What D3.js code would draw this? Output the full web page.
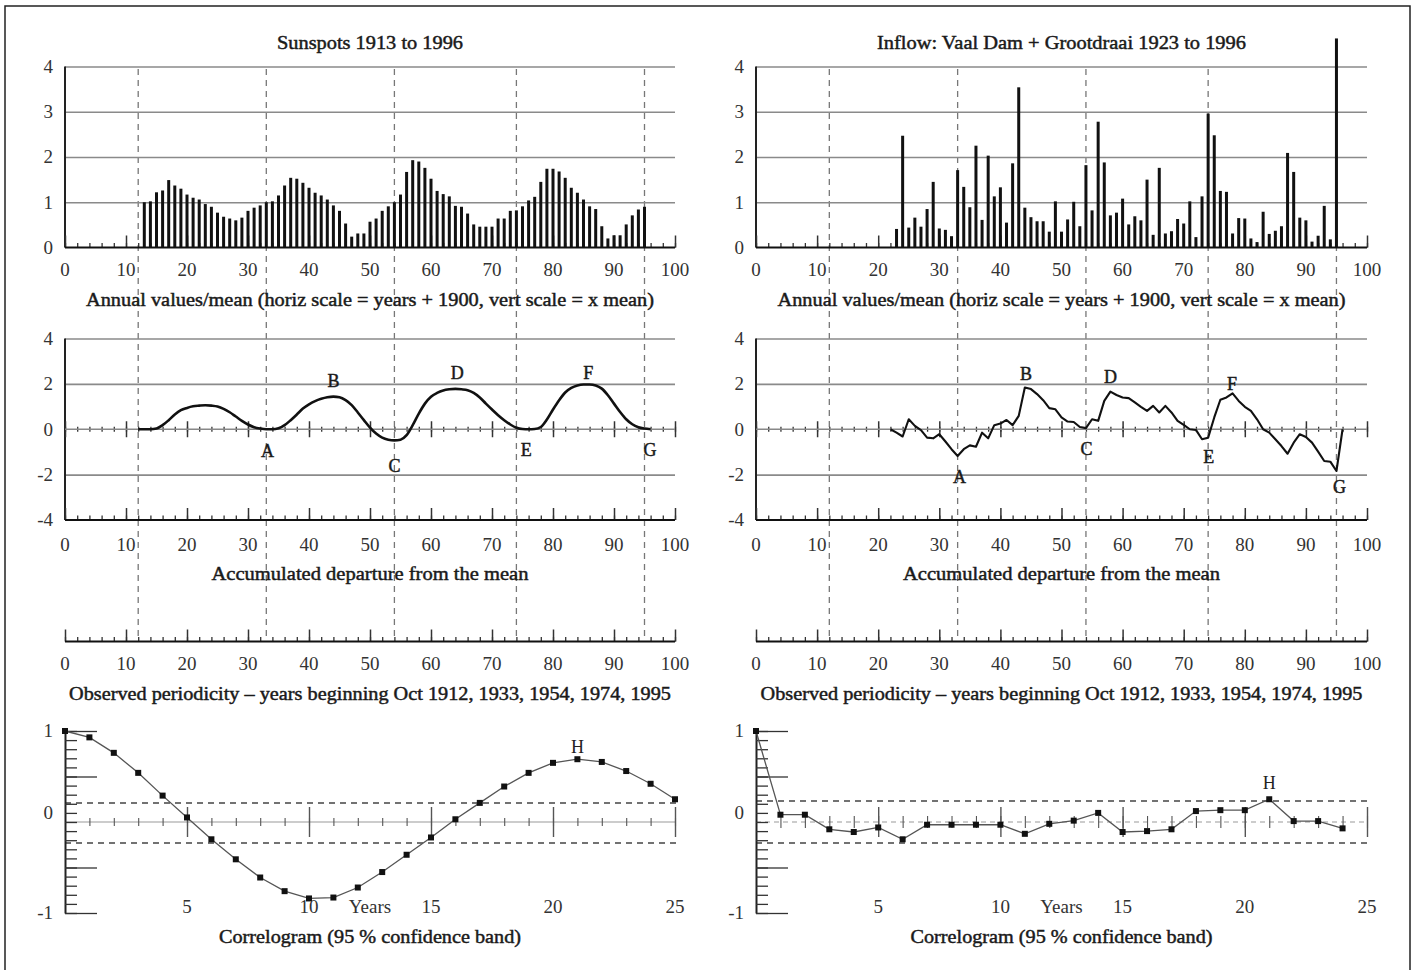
<!DOCTYPE html>
<html>
<head>
<meta charset="utf-8">
<script src="https://cdn.jsdelivr.net/npm/d3@7"></script>
<style>
  body { margin: 0; background: #fff; }
  text { font-family: "Liberation Serif", "DejaVu Serif", serif; }
  .semi { fill: #1a1a1a; stroke: #1a1a1a; stroke-width: 0.45px; }
</style>
</head>
<body>
<script>
// ---- data ----
var periodYears = [12, 33, 54, 74, 95];

var sunspotYears = d3.range(13, 96);
var sunspotValues = [1.0,1.02,1.22,1.26,1.49,1.37,1.30,1.17,1.10,1.06,0.96,0.90,0.77,0.68,0.64,0.60,0.66,0.81,0.88,0.93,
  1.0,1.02,1.15,1.37,1.54,1.52,1.43,1.32,1.21,1.15,1.06,0.93,0.81,0.53,0.24,0.31,0.31,0.57,0.64,0.81,
  0.91,1.0,1.17,1.67,1.93,1.90,1.76,1.52,1.25,1.18,1.13,0.92,0.90,0.75,0.51,0.46,0.46,0.46,0.64,0.64,
  0.81,0.82,0.91,1.04,1.12,1.45,1.74,1.74,1.68,1.54,1.32,1.21,1.06,0.91,0.85,0.47,0.20,0.27,0.27,0.51,
  0.71,0.84,0.90];

var inflowYears = d3.range(23, 96);
var inflowValues = [0.41,2.47,0.44,0.66,0.46,0.85,1.45,0.42,0.39,0.25,1.71,1.34,0.89,2.25,0.61,2.03,1.13,1.33,0.55,1.86,
  3.54,0.88,0.67,0.58,0.58,0.35,1.02,0.35,0.62,1.01,0.47,1.82,0.82,2.78,1.88,0.71,0.77,1.08,0.51,0.69,
  0.60,1.50,0.28,1.76,0.31,0.36,0.63,0.53,1.02,0.23,1.13,2.96,2.48,1.25,1.23,0.31,0.65,0.64,0.20,0.12,
  0.79,0.30,0.37,0.47,2.09,1.67,0.66,0.60,0.13,0.26,0.92,0.18,4.62];

var sunDepYears = d3.range(12, 97);
var sunDepValues = [0,0,0,0.03,0.18,0.40,0.65,0.84,0.94,1.01,1.04,1.06,1.04,1.00,0.90,0.75,0.56,0.37,0.21,0.09,
  0.03,0,0,0.04,0.18,0.40,0.65,0.91,1.10,1.24,1.34,1.41,1.44,1.41,1.28,1.06,0.74,0.40,0.07,-0.19,
  -0.37,-0.46,-0.49,-0.46,-0.26,0.18,0.69,1.13,1.43,1.60,1.71,1.76,1.78,1.76,1.72,1.60,1.40,1.13,0.87,0.62,
  0.40,0.21,0.07,0.01,0,0.01,0.10,0.43,0.87,1.28,1.62,1.82,1.93,1.97,1.97,1.93,1.79,1.50,1.13,0.76,
  0.44,0.22,0.09,0.03,0];

var inflowDepYears = d3.range(22, 97);
var inflowDepValues = [0,-0.15,-0.32,0.44,0.15,-0.04,-0.37,-0.40,-0.22,-0.54,-0.88,-1.18,-0.88,-0.71,-0.77,-0.15,-0.40,0.18,0.25,0.41,
  0.18,0.59,1.84,1.77,1.55,1.28,0.93,0.88,0.52,0.34,0.32,0.10,0.05,0.44,0.37,1.25,1.66,1.51,1.40,1.37,
  1.18,0.99,0.81,1.03,0.74,1.03,0.74,0.37,0.19,0,-0.03,-0.44,-0.37,0.52,1.30,1.40,1.58,1.25,0.99,0.81,
  0.44,0,-0.15,-0.44,-0.74,-1.08,-0.59,-0.22,-0.34,-0.59,-0.99,-1.40,-1.43,-1.84,0];

var sunLetters = [["A",33.2,-0.95],["B",44,2.15],["C",54,-1.62],["D",64.3,2.48],["E",75.6,-0.92],["F",85.8,2.48],["G",95.9,-0.92]];
var inflowLetters = [["A",33.3,-2.1],["B",44.2,2.45],["C",54.1,-0.88],["D",58,2.3],["E",74.1,-1.22],["F",77.9,2.02],["G",95.5,-2.55]];

var sunLags = d3.range(0, 26);
var sunCorr = [1.0,0.93,0.76,0.54,0.29,0.05,-0.19,-0.41,-0.61,-0.76,-0.84,-0.83,-0.72,-0.55,-0.36,-0.17,0.03,0.21,0.39,0.54,
  0.65,0.69,0.66,0.56,0.42,0.25];
var inflowLags = d3.range(0, 25);
var inflowCorr = [1.0,0.08,0.08,-0.08,-0.11,-0.06,-0.19,-0.03,-0.03,-0.03,-0.03,-0.13,-0.02,0.015,0.10,-0.11,-0.10,-0.08,0.12,0.13,
  0.13,0.25,0.01,0.01,-0.07];

var topTicks = [0,1,2,3,4];
var midTicks = [4,2,0,-2,-4];
var yearTicks = [0,10,20,30,40,50,60,70,80,90,100];
var lagTicks = [5,10,15,20,25];
var corTickLabels = ["1","0","-1"];

// ---- layout ----
var svg = d3.select("body").append("svg")
    .attr("width", 1415)
    .attr("height", 970);

svg.append("rect")
    .attr("x", 5).attr("y", 6).attr("width", 1405).attr("height", 1000)
    .attr("fill", "none").attr("stroke", "#222").attr("stroke-width", 1.5);

var yTop = d3.scaleLinear().domain([0, 4]).range([247.5, 66.5]);
var yMid = d3.scaleLinear().domain([-4, 4]).range([520, 338.5]);
var axis3Y = 641.5;
var yCor = d3.scaleLinear().domain([-1, 1]).range([913, 731]);
var tickFont = 19;

function tickRow(g, axis, ty, color, w) {
  var a = g.append("g").attr("transform", "translate(0," + ty + ")").call(axis);
  a.select(".domain").remove();
  a.selectAll("text").remove();
  a.selectAll("line").attr("stroke", color).attr("stroke-width", w);
  return a;
}

function label(g, s, x, y, size, semi, anchor, len) {
  var t = g.append("text")
      .attr("x", x).attr("y", y)
      .attr("text-anchor", anchor || "middle")
      .attr("font-size", size)
      .attr("fill", "#333")
      .text(s);
  if (semi) t.attr("class", "semi");
  if (len) t.attr("textLength", len).attr("lengthAdjust", "spacingAndGlyphs");
  return t;
}

function yearAxis(g, x, ty, mode) {
  var x0 = x.range()[0], x1 = x.range()[1];
  var minor = d3.range(0, 101, 2), major = yearTicks;
  if (mode == "cross") {
    tickRow(g, d3.axisBottom(x).tickValues(minor).tickSize(5), ty - 2.5, "#333", 1.3);
    tickRow(g, d3.axisBottom(x).tickValues(major).tickSize(16), ty - 8, "#333", 1.5);
    g.append("line").attr("x1", x0).attr("x2", x1).attr("y1", ty).attr("y2", ty)
        .attr("stroke", "#888").attr("stroke-width", 1.5);
  } else {
    tickRow(g, d3.axisBottom(x).tickValues(minor).tickSize(-4.5), ty, "#333", 1.3);
    tickRow(g, d3.axisBottom(x).tickValues(major).tickSize(-12), ty, "#333", 1.5);
    g.append("line").attr("x1", x0).attr("x2", x1).attr("y1", ty).attr("y2", ty)
        .attr("stroke", "#111").attr("stroke-width", 2.2);
  }
}

function yearLabels(g, x, ty) {
  g.selectAll(null).data(yearTicks).enter().append("text")
      .attr("x", function(d) { return x(d); })
      .attr("y", ty)
      .attr("text-anchor", "middle")
      .attr("font-size", tickFont)
      .attr("fill", "#333")
      .text(function(d) { return d; });
}

function panel(p) {
  var x = d3.scaleLinear().domain([0, 100]).range(p.range);
  var lag = d3.scaleLinear().domain([0, 25]).range(p.range);
  var x0 = p.range[0], x1 = p.range[1], cx = (x0 + x1) / 2;
  var g = svg.append("g");

  // dashed period markers running through the first three rows
  g.selectAll(null).data(periodYears).enter().append("line")
      .attr("x1", function(d) { return x(d); })
      .attr("x2", function(d) { return x(d); })
      .attr("y1", 69).attr("y2", 640)
      .attr("stroke", "#777").attr("stroke-width", 1.3)
      .attr("stroke-dasharray", "6,5");

  // ---------- row 1: annual bars ----------
  var grid1 = g.append("g").attr("transform", "translate(" + x0 + ",0)")
      .call(d3.axisLeft(yTop).tickValues([1, 2, 3, 4]).tickSize(-(x1 - x0)).tickFormat(""));
  grid1.select(".domain").remove();
  grid1.selectAll("line").attr("stroke", "#8a8a8a").attr("stroke-width", 1.6);
  g.append("line").attr("x1", x0).attr("x2", x0).attr("y1", yTop(0)).attr("y2", yTop(4))
      .attr("stroke", "#222").attr("stroke-width", 2);
  yearAxis(g, x, yTop(0), "up");
  g.selectAll(null).data(p.bars.values).enter().append("rect")
      .attr("x", function(d, i) { return x(p.bars.years[i]) - 1.5; })
      .attr("width", 3)
      .attr("y", function(d) { return yTop(d); })
      .attr("height", function(d) { return yTop(0) - yTop(d); })
      .attr("fill", "#111");
  g.selectAll(null).data(topTicks).enter().append("text")
      .attr("x", x0 - 12).attr("y", function(d) { return yTop(d); })
      .attr("dy", "0.34em").attr("text-anchor", "end")
      .attr("font-size", tickFont).attr("fill", "#333")
      .text(function(d) { return d; });
  yearLabels(g, x, 276);
  label(g, p.title, cx, 49, 18, true, "middle", p.titleLen);
  label(g, "Annual values/mean (horiz scale = years + 1900, vert scale = x mean)", cx, 306, 18, true, "middle", 568);

  // ---------- row 2: accumulated departure ----------
  var grid2 = g.append("g").attr("transform", "translate(" + x0 + ",0)")
      .call(d3.axisLeft(yMid).tickValues([4, 2, -2]).tickSize(-(x1 - x0)).tickFormat(""));
  grid2.select(".domain").remove();
  grid2.selectAll("line").attr("stroke", "#8a8a8a").attr("stroke-width", 1.6);
  g.append("line").attr("x1", x0).attr("x2", x0).attr("y1", yMid(-4)).attr("y2", yMid(4))
      .attr("stroke", "#222").attr("stroke-width", 2);
  yearAxis(g, x, yMid(0), "cross");
  yearAxis(g, x, yMid(-4), "up");
  var line = d3.line()
      .x(function(d) { return x(d[0]); })
      .y(function(d) { return yMid(d[1]); })
      .curve(p.dep.smooth ? d3.curveMonotoneX : d3.curveLinear);
  g.append("path")
      .datum(p.dep.years.map(function(yr, i) { return [yr, p.dep.values[i]]; }))
      .attr("d", line)
      .attr("fill", "none").attr("stroke", "#111")
      .attr("stroke-width", p.dep.smooth ? 2.6 : 2.1)
      .attr("stroke-linejoin", "round");
  g.selectAll(null).data(p.letters).enter().append("text")
      .attr("class", "semi")
      .attr("x", function(d) { return x(d[1]); })
      .attr("y", function(d) { return yMid(d[2]); })
      .attr("dy", "0.34em").attr("text-anchor", "middle")
      .attr("font-size", 18)
      .text(function(d) { return d[0]; });
  g.selectAll(null).data(midTicks).enter().append("text")
      .attr("x", x0 - 12).attr("y", function(d) { return yMid(d); })
      .attr("dy", "0.34em").attr("text-anchor", "end")
      .attr("font-size", tickFont).attr("fill", "#333")
      .text(function(d) { return d; });
  yearLabels(g, x, 551);
  label(g, "Accumulated departure from the mean", cx, 580, 18, true, "middle", 317);

  // ---------- row 3: bare periodicity axis ----------
  yearAxis(g, x, axis3Y, "up");
  yearLabels(g, x, 670);
  label(g, "Observed periodicity \u2013 years beginning Oct 1912, 1933, 1954, 1974, 1995", cx, 700, 18, true, "middle", 602);

  // ---------- row 4: correlogram ----------
  g.selectAll(null).data(p.band).enter().append("line")
      .attr("x1", x0).attr("x2", x1 + 2)
      .attr("y1", function(d) { return yCor(d); })
      .attr("y2", function(d) { return yCor(d); })
      .attr("stroke", "#444").attr("stroke-width", 1.5)
      .attr("stroke-dasharray", "6,5");
  g.append("line").attr("x1", x0).attr("x2", x1).attr("y1", yCor(0)).attr("y2", yCor(0))
      .attr("stroke", "#999").attr("stroke-width", 1.2)
      .attr("stroke-dasharray", p.zeroDash);
  tickRow(g, d3.axisBottom(lag).tickValues(d3.range(1, 26)).tickSize(p.shortTick * 2), yCor(0) - p.shortTick, "#555", 1.1);
  tickRow(g, d3.axisBottom(lag).tickValues(lagTicks).tickSize(30), yCor(0) - 15, "#555", 1.4);
  var ya = g.append("g").attr("transform", "translate(" + x0 + ",0)")
      .call(d3.axisRight(yCor).tickValues(d3.range(-10, 11).map(function(i) { return i / 10; })).tickSize(12).tickSizeOuter(0));
  ya.selectAll("text").remove();
  ya.selectAll("line").attr("stroke", "#333").attr("stroke-width", 1.3);
  ya.select(".domain").attr("stroke", "#222").attr("stroke-width", 2);
  tickRow(g.append("g").attr("transform", "translate(" + x0 + ",0)"),
      d3.axisRight(yCor).tickValues([-1, -0.5, 0.5, 1]).tickSize(32), 0, "#333", 1.3);
  var cline = d3.line()
      .x(function(d) { return lag(d[0]); })
      .y(function(d) { return yCor(d[1]); });
  var cdata = p.corr.lags.map(function(l, i) { return [l, p.corr.values[i]]; });
  g.append("path").datum(cdata).attr("d", cline)
      .attr("fill", "none").attr("stroke", "#555").attr("stroke-width", 1.3);
  g.selectAll(null).data(cdata).enter().append("rect")
      .attr("x", function(d) { return lag(d[0]) - 3; })
      .attr("y", function(d) { return yCor(d[1]) - 3; })
      .attr("width", 6).attr("height", 6)
      .attr("fill", "#111");
  g.selectAll(null).data(corTickLabels).enter().append("text")
      .attr("x", x0 - 12)
      .attr("y", function(d) { return d == "0" ? yCor(0) - 9 : yCor(+d); })
      .attr("dy", "0.34em").attr("text-anchor", "end")
      .attr("font-size", tickFont).attr("fill", "#333")
      .text(function(d) { return d; });
  g.selectAll(null).data(lagTicks).enter().append("text")
      .attr("x", function(d) { return lag(d); }).attr("y", 913)
      .attr("text-anchor", "middle").attr("font-size", tickFont).attr("fill", "#333")
      .text(function(d) { return d; });
  label(g, "Years", lag(12.5), 913, tickFont, false, "middle");
  label(g, "H", lag(p.hLabel[0]), yCor(p.hLabel[1]) + 6, 18, false, "middle").attr("fill", "#222");
  label(g, "Correlogram (95 % confidence band)", cx, 943, 18, true, "middle", 302);
}

panel({
  range: [65, 675],
  title: "Sunspots 1913 to 1996", titleLen: 186,
  bars: { years: sunspotYears, values: sunspotValues },
  dep: { years: sunDepYears, values: sunDepValues, smooth: true },
  letters: sunLetters,
  corr: { lags: sunLags, values: sunCorr },
  band: [0.21, -0.23],
  zeroDash: null, shortTick: 4,
  hLabel: [21, 0.82]
});

panel({
  range: [756, 1367],
  title: "Inflow: Vaal Dam + Grootdraai 1923 to 1996", titleLen: 369,
  bars: { years: inflowYears, values: inflowValues },
  dep: { years: inflowDepYears, values: inflowDepValues, smooth: false },
  letters: inflowLetters,
  corr: { lags: inflowLags, values: inflowCorr },
  band: [0.23, -0.23],
  zeroDash: "5,4", shortTick: 6,
  hLabel: [21, 0.43]
});
</script>
</body>
</html>
